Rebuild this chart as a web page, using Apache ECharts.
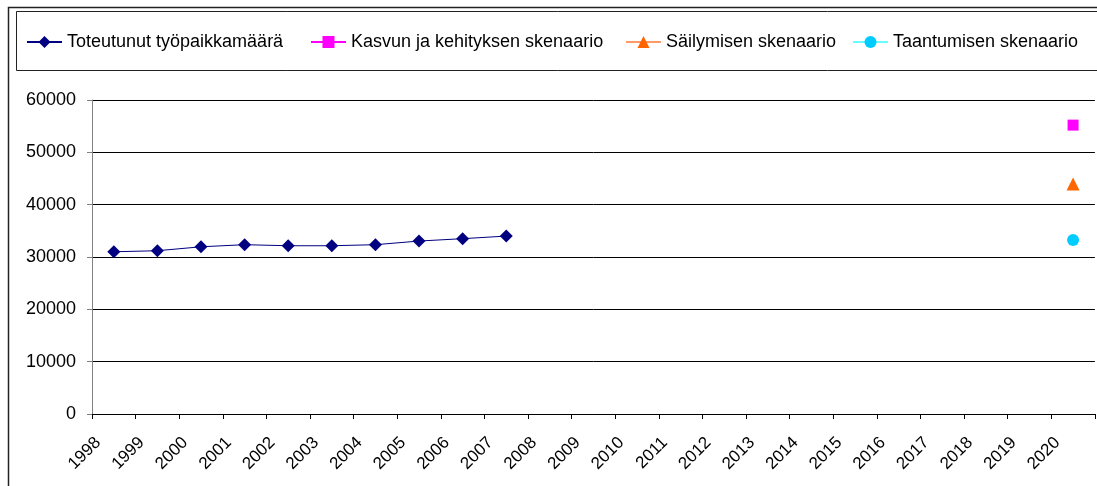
<!DOCTYPE html>
<html>
<head>
<meta charset="utf-8">
<script src="https://cdn.jsdelivr.net/npm/echarts@6/dist/echarts.min.js"></script>
<style>
  html, body { margin: 0; padding: 0; background: #fff; }
  #chart { width: 1097px; height: 486px; }
</style>
</head>
<body>
<div id="chart"></div>
<script>
// vuodet (kategoriat)
const years = ['1998','1999','2000','2001','2002','2003','2004','2005','2006','2007','2008','2009',
  '2010','2011','2012','2013','2014','2015','2016','2017','2018','2019','2020']
// toteutunut 1998-2007
const actual = [31000, 31200, 31950, 32350, 32150, 32150, 32350, 33050, 33500, 34000]
// skenaariot vuodelle 2020
const growth = 55200
const keep = 43950
const decline = 33250
const scenarioYear = '2020'
const seriesNames = ['Toteutunut työpaikkamäärä', 'Kasvun ja kehityksen skenaario', 'Säilymisen skenaario', 'Taantumisen skenaario']

const font = 'Liberation Sans, Arial, sans-serif'

// piste keskelle kategoriaa
const pt = (year, v) => [years.indexOf(year) + 0.5, v]
const actualData = actual.map((v, i) => pt(years[i], v))

// selitteet omille paikoilleen
const legendLeft = [26, 310, 625, 852]
const legends = seriesNames.map((name, i) => ({
  left: legendLeft[i],
  top: 33,
  padding: 0,
  itemWidth: 35,
  itemHeight: 15,
  textStyle: { fontFamily: font, fontSize: 18, color: '#000' },
  data: [name],
}))

const chart = echarts.init(document.getElementById('chart'))
chart.setOption({
  animation: false,
  backgroundColor: '#fff',
  graphic: [
    { type: 'rect', shape: { x: 8.5, y: 7.5, width: 1100, height: 500 }, style: { fill: 'none', stroke: '#222', lineWidth: 1.5 }, z: 0 },
    { type: 'rect', shape: { x: 16.5, y: 11.5, width: 1100, height: 59 }, style: { fill: 'none', stroke: '#222', lineWidth: 1 }, z: 0 },
  ],
  legend: legends,
  grid: { left: 92, right: 2, top: 100, bottom: 72, containLabel: false },
  xAxis: {
    type: 'value',
    min: 0,
    max: years.length,
    interval: 1,
    splitLine: { show: false },
    axisLine: { show: true, lineStyle: { color: '#000', width: 1 } },
    axisTick: { show: true, length: 5, lineStyle: { color: '#000' } },
    axisLabel: {
      rotate: 45,
      margin: 20,
      verticalAlign: 'top',
      fontFamily: font,
      fontSize: 17,
      color: '#000',
      formatter: (v) => years[v] || '',
    },
  },
  yAxis: {
    type: 'value',
    min: 0,
    max: 60000,
    interval: 10000,
    axisLine: { show: true, lineStyle: { color: '#808080' } },
    axisTick: { show: true, length: 5, lineStyle: { color: '#808080' } },
    splitLine: { show: true, lineStyle: { color: '#000', width: 1 } },
    axisLabel: { margin: 16, fontFamily: font, fontSize: 18, color: '#000', formatter: (v) => String(v) },
  },
  series: [
    {
      name: seriesNames[0],
      type: 'line',
      data: actualData,
      symbol: 'diamond',
      symbolSize: 13,
      itemStyle: { color: '#000080' },
      lineStyle: { color: '#000080', width: 1 },
    },
    {
      name: seriesNames[1],
      type: 'line',
      data: [pt(scenarioYear, growth)],
      symbol: 'rect',
      symbolSize: 11,
      itemStyle: { color: '#ff00ff' },
      lineStyle: { color: '#ff00ff', width: 1 },
    },
    {
      name: seriesNames[2],
      type: 'line',
      data: [pt(scenarioYear, keep)],
      symbol: 'triangle',
      symbolSize: 13,
      itemStyle: { color: '#ff6600' },
      lineStyle: { color: '#ff9966', width: 1 },
    },
    {
      name: seriesNames[3],
      type: 'line',
      data: [pt(scenarioYear, decline)],
      symbol: 'circle',
      symbolSize: 12,
      itemStyle: { color: '#00ccff' },
      lineStyle: { color: '#66ffff', width: 1 },
    },
  ],
})
</script>
</body>
</html>
